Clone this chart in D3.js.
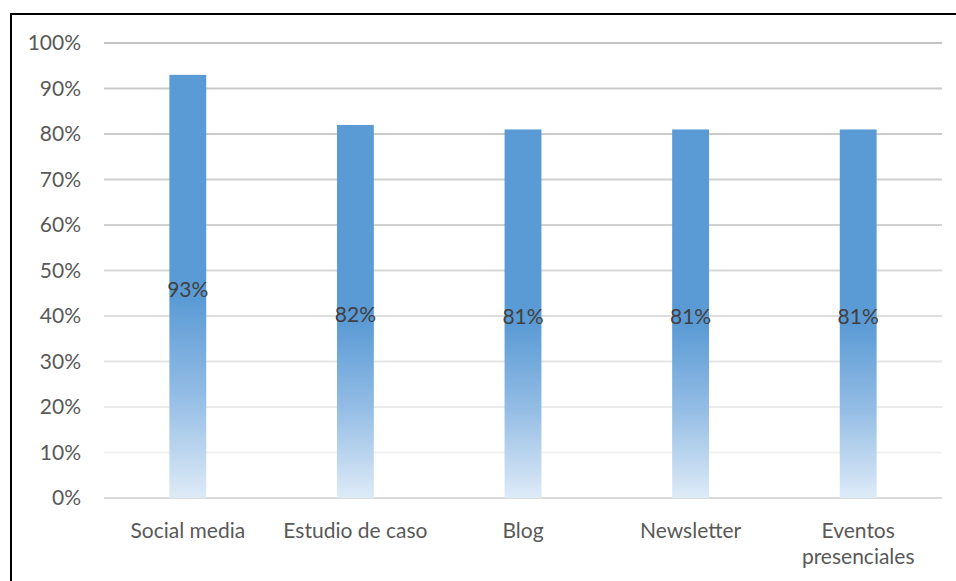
<!DOCTYPE html>
<html>
<head>
<meta charset="utf-8">
<script src="https://cdn.jsdelivr.net/npm/d3@7"></script>
<style>
  body { margin: 0; background: #fff; }
  text { font-family: Lato, "Open Sans", sans-serif; }
</style>
</head>
<body>
<div id="container"></div>
<script>
// Chart data
const categories = ["Social media", "Estudio de caso", "Blog", "Newsletter", "Eventos presenciales"];
const values = [0.93, 0.82, 0.81, 0.81, 0.81];
const yTicks = [0, 0.1, 0.2, 0.3, 0.4, 0.5, 0.6, 0.7, 0.8, 0.9, 1.0];

const width = 956;
const height = 581;
const margin = { top: 43, right: 14, bottom: 83, left: 104 };
const fontSize = "21px";

const svg = d3.select("#container")
    .append("svg")
    .attr("width", width)
    .attr("height", height);

// Outer frame (cut off on right and bottom)
svg.append("rect")
    .attr("x", 11)
    .attr("y", 14)
    .attr("width", 1000)
    .attr("height", 700)
    .attr("fill", "none")
    .attr("stroke", "#000")
    .attr("stroke-width", 2);

const xScale = d3.scaleBand()
    .domain(categories)
    .range([margin.left, width - margin.right])
    .paddingInner(0.78)
    .paddingOuter(0.39);

const yScale = d3.scaleLinear()
    .domain([0, 1])
    .range([height - margin.bottom, margin.top]);

// Bar gradient
const defs = svg.append("defs");
const grad = defs.append("linearGradient")
    .attr("id", "barGrad")
    .attr("x1", 0).attr("y1", 0)
    .attr("x2", 0).attr("y2", 1);
grad.append("stop").attr("offset", "0%").attr("stop-color", "#5b9bd5");
grad.append("stop").attr("offset", "53%").attr("stop-color", "#5b9bd5");
grad.append("stop").attr("offset", "76%").attr("stop-color", "#94bde5");
grad.append("stop").attr("offset", "100%").attr("stop-color", "#deebf7");

// Gridlines fade from darker at top to lighter at bottom
const gridColor = d3.scaleLinear()
    .domain([0.1, 0.6, 1.0])
    .range(["#f1f1f1", "#d2d2d2", "#c4c4c4"]);

const yAxis = d3.axisLeft(yScale)
    .tickValues(yTicks)
    .tickFormat(d3.format(".0%"))
    .tickSize(0)
    .tickPadding(23);

const yG = svg.append("g")
    .attr("id", "y-axis")
    .attr("transform", `translate(${margin.left}, 0)`)
    .call(yAxis);
yG.select(".domain").remove();
yG.selectAll("text")
    .attr("fill", "#595959")
    .style("font-size", fontSize);

svg.append("g")
    .attr("class", "grid")
    .selectAll("line")
    .data(yTicks)
    .enter()
    .append("line")
    .attr("x1", margin.left)
    .attr("x2", width - margin.right)
    .attr("y1", d => yScale(d))
    .attr("y2", d => yScale(d))
    .attr("stroke", d => d === 0 ? "#d9d9d9" : gridColor(d))
    .attr("stroke-width", 2);

// Bars
svg.selectAll("rect.bar")
    .data(values)
    .enter()
    .append("rect")
    .attr("class", "bar")
    .attr("x", (d, i) => xScale(categories[i]))
    .attr("y", d => yScale(d))
    .attr("width", xScale.bandwidth())
    .attr("height", d => yScale(0) - yScale(d))
    .attr("fill", "url(#barGrad)");

// Value labels in the middle of each bar
svg.selectAll("text.label")
    .data(values)
    .enter()
    .append("text")
    .attr("class", "label")
    .attr("x", (d, i) => xScale(categories[i]) + xScale.bandwidth() / 2)
    .attr("y", d => yScale(d / 2))
    .attr("dy", "0.5em")
    .attr("text-anchor", "middle")
    .attr("fill", "#404040")
    .style("font-size", fontSize)
    .text(d => d3.format(".0%")(d));

// Category labels (wrapped when too long)
const xAxis = d3.axisBottom(xScale).tickSize(0).tickPadding(0);
const xG = svg.append("g")
    .attr("id", "x-axis")
    .attr("transform", `translate(0, ${yScale(0)})`)
    .call(xAxis);
xG.select(".domain").remove();
xG.selectAll("text").remove();
xG.selectAll(".tick").each(function (d) {
    const words = d.length > 16 ? d.split(" ") : [d];
    const t = d3.select(this).append("text")
        .attr("text-anchor", "middle")
        .attr("fill", "#595959")
        .style("font-size", fontSize);
    words.forEach((w, i) => {
        t.append("tspan")
            .attr("x", 0)
            .attr("y", 40 + i * 26)
            .text(w);
    });
});
</script>
</body>
</html>
